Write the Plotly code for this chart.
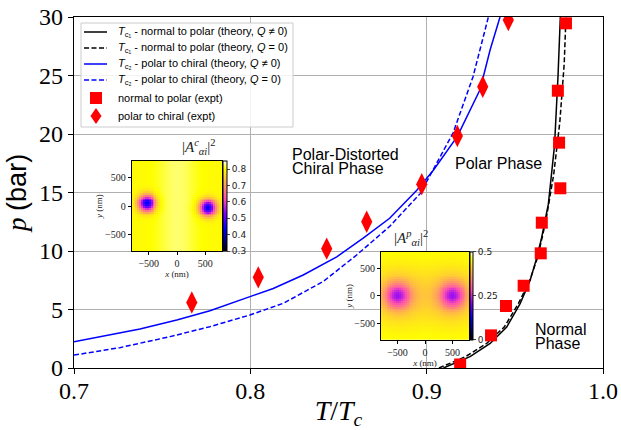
import numpy as np
import plotly.graph_objects as go

# ---------------- data ----------------
# T_c1 normal -> polar, theory Q != 0 (solid black)
tc1_q_T = [0.9095, 0.9246, 0.936, 0.9454, 0.953, 0.9587, 0.962, 0.965, 0.969, 0.9725, 0.9745, 0.9758]
tc1_q_p = [0.0, 0.97, 2.1, 3.5, 5.5, 7.5, 9.2, 11.0, 14.0, 19.0, 25.0, 30.0]
# T_c1 normal -> polar, theory Q = 0 (dashed black)
tc1_0_T = [0.907, 0.922, 0.934, 0.944, 0.952, 0.9585, 0.963, 0.9675, 0.972, 0.9755, 0.978, 0.979]
tc1_0_p = [0.0, 0.97, 2.1, 3.5, 5.5, 7.5, 9.5, 12.5, 16.5, 21.0, 26.0, 30.0]
# T_c2 polar -> chiral, theory Q != 0 (solid blue)
tc2_q_T = [0.7, 0.7374, 0.7583, 0.7771, 0.7998, 0.813, 0.830, 0.849, 0.864, 0.879, 0.8944, 0.9038, 0.9174, 0.9303, 0.936, 0.9416]
tc2_q_p = [2.25, 3.33, 4.1, 4.9, 6.1, 6.8, 7.95, 9.5, 11.1, 12.8, 15.2, 16.9, 19.8, 23.8, 27.2, 30.0]
# T_c2 polar -> chiral, theory Q = 0 (dashed blue)
tc2_0_T = [0.7, 0.726, 0.7545, 0.777, 0.7998, 0.8187, 0.8414, 0.8603, 0.879, 0.8963, 0.915, 0.9263, 0.935]
tc2_0_p = [1.1, 1.74, 2.68, 3.53, 4.53, 5.53, 7.4, 9.66, 12.1, 14.9, 20.1, 24.9, 30.0]
# experiments
np_expt_T = [0.919, 0.9365, 0.945, 0.955, 0.9647, 0.9653, 0.9758, 0.9751, 0.9744, 0.979]
np_expt_p = [0.3, 2.79, 5.3, 7.03, 9.8, 12.42, 15.36, 19.26, 23.7, 29.46]
pc_expt_T = [0.7668, 0.8045, 0.8433, 0.866, 0.8972, 0.9174, 0.9318, 0.9463]
pc_expt_p = [5.6, 7.75, 10.2, 12.5, 15.7, 19.83, 24.04, 29.74]

x_ticks = [0.7, 0.8, 0.9, 1.0]
y_ticks = [0, 5, 10, 15, 20, 25, 30]

legend_labels = [
    "<i>T</i><sub>c\u2081</sub> - normal to polar (theory, <i>Q</i> \u2260 0)",
    "<i>T</i><sub>c\u2081</sub> - normal to polar (theory, <i>Q</i> = 0)",
    "<i>T</i><sub>c\u2082</sub> - polar to chiral (theory, <i>Q</i> \u2260 0)",
    "<i>T</i><sub>c\u2082</sub> - polar to chiral (theory, <i>Q</i> = 0)",
    "normal to polar (expt)",
    "polar to chiral (expt)",
]

# inset maps: vortex centres (nm) and order-parameter levels
chiral_vortices = [(-530.0, 50.0), (540.0, -30.0)]
chiral_bg, chiral_core, chiral_sigma = 0.80, 0.43, 100.0
chiral_ticks = [0.3, 0.4, 0.5, 0.6, 0.7, 0.8]
polar_vortices = [(-500.0, 0.0), (500.0, 0.0)]
polar_bg, polar_wide, polar_core = 0.465, 0.07, 0.17
polar_ticks = [0, 0.25, 0.5]
nm_ticks = [-500, 0, 500]
nm_labels = ["\u2212500", "0", "500"]

# ------------------------------------------------------------------
W, H = 621, 430
L, R, T, B = 74, 18, 17, 62
PW, PH = W - L - R, H - T - B


def px(x):
    return (x - L) / PW


def py(y):
    return (H - B - y) / PH


gnuplot2 = [
    [0.0, "rgb(0,0,0)"],
    [0.25, "rgb(0,0,255)"],
    [0.42, "rgb(135,0,255)"],
    [0.5712, "rgb(255,77,178)"],
    [0.92, "rgb(255,255,0)"],
    [1.0, "rgb(255,255,255)"],
]

N = 48
g = np.linspace(-800, 800, N + 1)
gc = 0.5 * (g[:-1] + g[1:])
XX, YY = np.meshgrid(gc, gc)

zc = np.full_like(XX, chiral_bg) + 0.025 * np.exp(-XX**2 / (2 * 260.0**2))
for vx, vy in chiral_vortices:
    d2 = (XX - vx) ** 2 + (YY - vy) ** 2
    zc = zc - (chiral_bg - chiral_core) * np.exp(-d2 / (2 * chiral_sigma**2))

zp = np.full_like(XX, polar_bg)
for vx, vy in polar_vortices:
    d2 = (XX - vx) ** 2 + (YY - vy) ** 2
    zp = zp - polar_wide * np.exp(-d2 / (2 * 380.0**2)) - polar_core * np.exp(-d2 / (2 * 160.0**2))

BLUE = "#0000ff"
RED = "#ff0000"
DASH = "5px,2.5px"

fig = go.Figure()
fig.add_trace(go.Scatter(x=tc1_q_T, y=tc1_q_p, mode="lines", name=legend_labels[0],
                         line=dict(color="black", width=1.5)))
fig.add_trace(go.Scatter(x=tc1_0_T, y=tc1_0_p, mode="lines", name=legend_labels[1],
                         line=dict(color="black", width=1.5, dash=DASH)))
fig.add_trace(go.Scatter(x=tc2_q_T, y=tc2_q_p, mode="lines", name=legend_labels[2],
                         line=dict(color=BLUE, width=1.5)))
fig.add_trace(go.Scatter(x=tc2_0_T, y=tc2_0_p, mode="lines", name=legend_labels[3],
                         line=dict(color=BLUE, width=1.5, dash=DASH)))
fig.add_trace(go.Scatter(x=np_expt_T, y=np_expt_p, mode="markers", name=legend_labels[4],
                         marker=dict(symbol="square", size=12, color=RED, line=dict(width=0))))
fig.add_trace(go.Scatter(x=pc_expt_T, y=pc_expt_p, mode="markers", name=legend_labels[5],
                         marker=dict(symbol="diamond-tall", size=16, color=RED, line=dict(width=0))))

# inset heatmaps
in1 = dict(x0=131.7, x1=222.3, y0=161, y1=251)
in2 = dict(x0=381, x1=469, y0=251.7, y1=340)

fig.add_trace(go.Heatmap(
    x=gc, y=gc, z=zc, xaxis="x2", yaxis="y2", colorscale=gnuplot2,
    zmin=0.3, zmax=0.85, showlegend=False, hoverinfo="skip",
    colorbar=dict(x=px(in1["x1"] + 0.5), xanchor="left", xpad=0, ypad=0,
                  y=py((in1["y0"] + in1["y1"]) / 2), yanchor="middle",
                  len=(in1["y1"] - in1["y0"]) / PH, lenmode="fraction",
                  thickness=4, outlinewidth=1, outlinecolor="black",
                  tickvals=chiral_ticks, ticks="outside", ticklen=3,
                  tickfont=dict(family="DejaVu Sans", size=9, color="#222"))))
fig.add_trace(go.Heatmap(
    x=gc, y=gc, z=zp, xaxis="x3", yaxis="y3", colorscale=gnuplot2,
    zmin=0.0, zmax=0.5, showlegend=False, hoverinfo="skip",
    colorbar=dict(x=px(in2["x1"] + 0.5), xanchor="left", xpad=0, ypad=0,
                  y=py((in2["y0"] + in2["y1"]) / 2), yanchor="middle",
                  len=(in2["y1"] - in2["y0"]) / PH, lenmode="fraction",
                  thickness=3, outlinewidth=1, outlinecolor="black",
                  tickvals=polar_ticks, ticktext=["0", "0.25", "0.5"],
                  ticks="outside", ticklen=3,
                  tickfont=dict(family="DejaVu Sans", size=9, color="#222"))))

serif = "Liberation Serif"
sans = "Liberation Sans"

inset_axis = dict(showline=True, mirror=True, linecolor="black", linewidth=1,
                  ticks="outside", ticklen=3, tickcolor="black", showgrid=False,
                  zeroline=False, tickvals=nm_ticks, ticktext=nm_labels, automargin=False,
                  range=[-800, 800], tickfont=dict(family=serif, size=10, color="#222"))

fig.update_layout(
    width=W, height=H,
    margin=dict(l=L, r=R, t=T, b=B, autoexpand=False),
    paper_bgcolor="white", plot_bgcolor="white",
    showlegend=False,
    xaxis=dict(range=[0.7, 1.0], tickvals=x_ticks, ticktext=[f"{v:.1f}" for v in x_ticks],
               showgrid=True, gridcolor="#b0b0b0", gridwidth=1, zeroline=False, automargin=False,
               showline=True, mirror=True, linecolor="black", linewidth=1.2,
               ticks="outside", ticklen=5, tickcolor="black", ticklabelstandoff=-4,
               tickfont=dict(family=serif, size=24, color="black"),
               title=dict(text="<i>T</i>/<i>T</i><sub><i>c</i></sub>", standoff=2,
                          font=dict(family=serif, size=28, color="black"))),
    yaxis=dict(range=[0, 30], tickvals=y_ticks, showgrid=True, gridcolor="#b0b0b0", gridwidth=1,
               zeroline=False, showline=True, mirror=True, linecolor="black", linewidth=1.2,
               ticks="outside", ticklen=5, tickcolor="black", automargin=False,
               tickfont=dict(family=serif, size=24, color="black"),
               title=dict(text="<i>p</i> <span style='font-family:" + sans + "'>(bar)</span>",
                          standoff=4, font=dict(family=serif, size=27, color="black"))),
    xaxis2=dict(inset_axis, domain=[px(in1["x0"]), px(in1["x1"])], anchor="y2",
                title=dict(text="<i>x</i> (nm)", standoff=0, font=dict(family=serif, size=9, color="#222"))),
    yaxis2=dict(inset_axis, domain=[py(in1["y1"]), py(in1["y0"])], anchor="x2",
                title=dict(text="<i>y</i> (nm)", standoff=0, font=dict(family=serif, size=9, color="#222"))),
    xaxis3=dict(inset_axis, domain=[px(in2["x0"]), px(in2["x1"])], anchor="y3",
                title=dict(text="<i>x</i> (nm)", standoff=0, font=dict(family=serif, size=9, color="#222"))),
    yaxis3=dict(inset_axis, domain=[py(in2["y1"]), py(in2["y0"])], anchor="x3",
                title=dict(text="<i>y</i> (nm)", standoff=0, font=dict(family=serif, size=9, color="#222"))),
)

# ---- legend box drawn in the matplotlib style ----
shapes = [dict(type="rect", xref="paper", yref="paper",
               x0=px(81), x1=px(293), y0=py(127), y1=py(23),
               line=dict(color="#cccccc", width=1), fillcolor="rgba(255,255,255,0.85)", layer="above")]
rows = [32, 48, 64, 80, 98, 116]
key_styles = [("black", "solid"), ("black", DASH), (BLUE, "solid"), (BLUE, DASH)]
for r, (col, dsh) in zip(rows[:4], key_styles):
    shapes.append(dict(type="line", xref="paper", yref="paper", x0=px(84), x1=px(107),
                       y0=py(r), y1=py(r), line=dict(color=col, width=1.5, dash=dsh), layer="above"))
# square key
shapes.append(dict(type="rect", xref="paper", yref="paper", x0=px(90), x1=px(102),
                   y0=py(rows[4] + 6), y1=py(rows[4] - 6), line=dict(width=0),
                   fillcolor=RED, layer="above"))
# diamond key
cy = rows[5]
shapes.append(dict(type="path", xref="paper", yref="paper", layer="above",
                   path=(f"M {px(96)} {py(cy - 8)} L {px(101.5)} {py(cy)} "
                         f"L {px(96)} {py(cy + 8)} L {px(90.5)} {py(cy)} Z"),
                   line=dict(width=0), fillcolor=RED))
fig.update_layout(shapes=shapes)

for r, lab in zip(rows, legend_labels):
    fig.add_annotation(x=px(115.5), y=py(r), xref="paper", yref="paper", text=lab,
                       xanchor="left", yanchor="middle", showarrow=False,
                       font=dict(family=sans, size=11, color="black"))

ann = [
    dict(x=px(290), y=py(154), text="Polar-Distorted", size=16),
    dict(x=px(290), y=py(168.5), text="Chiral Phase", size=16),
    dict(x=px(453), y=py(164), text="Polar Phase", size=16),
    dict(x=px(533), y=py(329.5), text="Normal", size=16),
    dict(x=px(533), y=py(343.5), text="Phase", size=16),
]
for a in ann:
    fig.add_annotation(x=a["x"], y=a["y"], xref="paper", yref="paper", text=a["text"],
                       xanchor="left", yanchor="middle", showarrow=False,
                       font=dict(family=sans, size=a["size"], color="black"))

fig.add_annotation(x=px(180), y=py(147), xref="paper", yref="paper", showarrow=False,
                   text="|<i>A</i><sup><i>c</i></sup><sub><i>\u03b1i</i></sub>|<sup>2</sup>",
                   font=dict(family=serif, size=15, color="#222"))
fig.add_annotation(x=px(430), y=py(238), xref="paper", yref="paper", showarrow=False,
                   text="|<i>A</i><sup><i>p</i></sup><sub><i>\u03b1i</i></sub>|<sup>2</sup>",
                   font=dict(family=serif, size=15, color="#222"))

fig.write_html("out.html")
